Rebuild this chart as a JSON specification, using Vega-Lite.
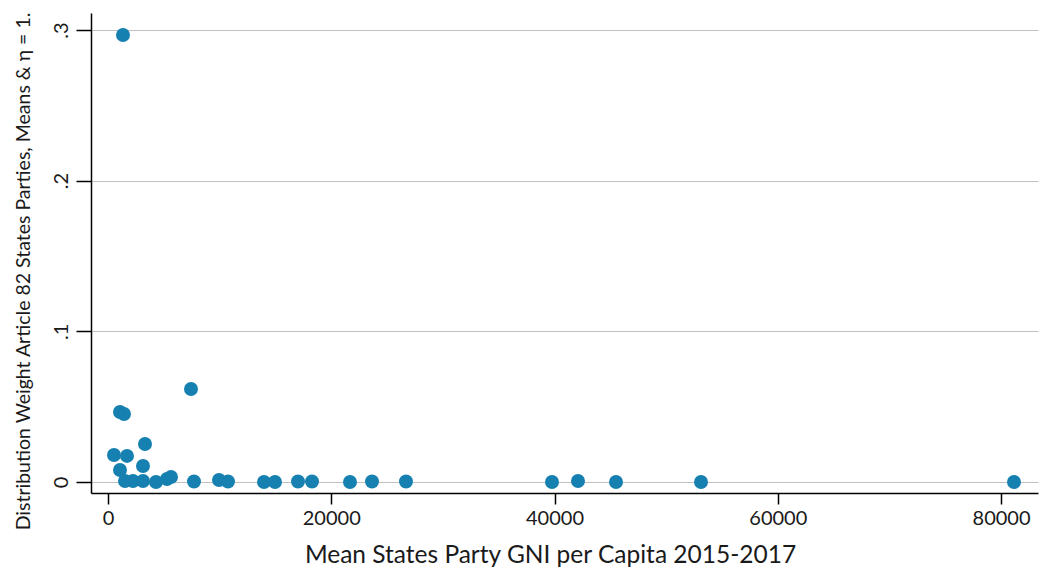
{
  "$schema": "https://vega.github.io/schema/vega-lite/v6.json",
  "autosize": "none",
  "padding": {"left": 91, "top": 13, "right": 7, "bottom": 85},
  "width": 947,
  "height": 480,
  "background": "white",
  "config": {
    "view": {"stroke": null},
    "font": "Lato"
  },
  "data": {
    "values": [
      {"gni": 1344, "weight": 0.2967},
      {"gni": 7435, "weight": 0.0617},
      {"gni": 1075, "weight": 0.0465},
      {"gni": 1433, "weight": 0.0451},
      {"gni": 3315, "weight": 0.0252},
      {"gni": 537, "weight": 0.0179},
      {"gni": 1702, "weight": 0.0173},
      {"gni": 1075, "weight": 0.008},
      {"gni": 3135, "weight": 0.0106},
      {"gni": 1523, "weight": 0.0007},
      {"gni": 2240, "weight": 0.0007},
      {"gni": 3135, "weight": 0.0007},
      {"gni": 4300, "weight": 0.0},
      {"gni": 5285, "weight": 0.002},
      {"gni": 5644, "weight": 0.0033},
      {"gni": 7704, "weight": 0.0003},
      {"gni": 9944, "weight": 0.0013},
      {"gni": 10750, "weight": 0.0003},
      {"gni": 13975, "weight": 0.0},
      {"gni": 14960, "weight": 0.0},
      {"gni": 17021, "weight": 0.0003},
      {"gni": 18275, "weight": 0.0003},
      {"gni": 21679, "weight": 0.0},
      {"gni": 23650, "weight": 0.0003},
      {"gni": 26695, "weight": 0.0003},
      {"gni": 39774, "weight": 0.0},
      {"gni": 42104, "weight": 0.0007},
      {"gni": 45508, "weight": 0.0},
      {"gni": 53122, "weight": 0.0},
      {"gni": 81161, "weight": 0.0}
    ]
  },
  "mark": {"type": "circle", "size": 195, "opacity": 1, "color": "#1680b1"},
  "encoding": {
    "x": {
      "field": "gni",
      "type": "quantitative",
      "title": "Mean States Party GNI per Capita 2015-2017",
      "scale": {"domain": [-1523, 83311], "nice": false, "zero": false},
      "axis": {
        "values": [0, 20000, 40000, 60000, 80000],
        "format": "d",
        "grid": false,
        "domainColor": "#000000",
        "domainWidth": 1.5,
        "tickColor": "#000000",
        "tickWidth": 1.5,
        "tickSize": 11,
        "labelFontSize": 20,
        "labelColor": "#1a1a1a",
        "labelPadding": 4,
        "labelFlush": false,
        "titleFontSize": 24.5,
        "titleColor": "#1a1a1a",
        "titleFontWeight": "normal",
        "titlePadding": 15,
        "titleX": 459
      }
    },
    "y": {
      "field": "weight",
      "type": "quantitative",
      "title": "Distribution Weight Article 82 States Parties, Means &  η = 1.",
      "scale": {"domain": [-0.0073, 0.3113], "nice": false, "zero": false},
      "axis": {
        "values": [0, 0.1, 0.2, 0.3],
        "labelExpr": "datum.value == 0 ? '0' : replace(format(datum.value, '.1f'), '0.', '.')",
        "grid": true,
        "gridColor": "#c0c0c0",
        "gridWidth": 1.2,
        "domainColor": "#000000",
        "domainWidth": 1.5,
        "tickColor": "#000000",
        "tickWidth": 1.5,
        "tickSize": 15,
        "labelAngle": -90,
        "labelAlign": "center",
        "labelBaseline": "bottom",
        "labelFontSize": 20,
        "labelColor": "#1a1a1a",
        "labelPadding": 5,
        "labelFlush": false,
        "titleFontSize": 19.5,
        "titleColor": "#1a1a1a",
        "titleFontWeight": "normal",
        "titlePadding": 18,
        "titleY": 258
      }
    }
  }
}
